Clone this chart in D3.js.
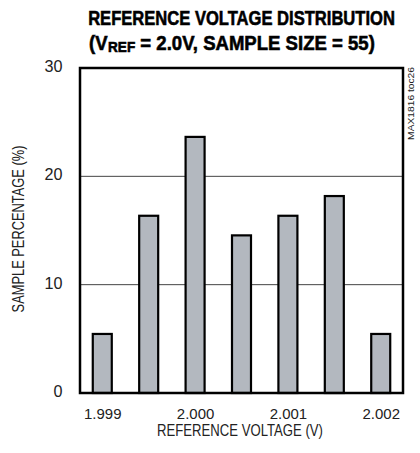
<!DOCTYPE html>
<html><head><meta charset="utf-8">
<script src="https://cdn.jsdelivr.net/npm/d3@7/dist/d3.min.js"></script>
<style>body{margin:0;background:#fff} text{white-space:pre}</style>
</head><body>
<script>
const voltages = [1.999, 1.9995, 2.000, 2.0005, 2.001, 2.0015, 2.002];
const percentages = [5.45, 16.36, 23.64, 14.55, 16.36, 18.18, 5.45];
const xTicks = [1.999, 2.000, 2.001, 2.002];
const xTickLabels = ["1.999", "2.000", "2.001", "2.002"];
const yTicks = [0, 10, 20, 30];

const W = 420, H = 453;
const m = {left: 80, right: 17, top: 68, bottom: 60};
const font = "'Liberation Sans','Arial',sans-serif";
const txt = "#222";

const svg = d3.select("body").append("svg").attr("width", W).attr("height", H);
const x = d3.scaleLinear().domain([1.99876, 2.00224]).range([m.left, W - m.right]);
const y = d3.scaleLinear().domain([0, 30]).range([H - m.bottom, m.top]);

// squeeze a text element horizontally to a target width (narrow-font look)
function squeeze(node, target, pre) {
  const w = node.getComputedTextLength();
  const s = target / w;
  d3.select(node).attr("transform", `${pre || ""} scale(${s},1)`);
}

// gridlines
svg.append("g").selectAll("line").data(yTicks.filter(d => d > 0 && d < 30)).join("line")
  .attr("x1", m.left).attr("x2", W - m.right)
  .attr("y1", d => y(d)).attr("y2", d => y(d))
  .attr("stroke", "#444").attr("stroke-width", 1);

// bars
const bw = 19;
svg.append("g").selectAll("rect").data(voltages).join("rect")
  .attr("x", d => x(d) - bw / 2)
  .attr("width", bw)
  .attr("y", (d, i) => y(percentages[i]))
  .attr("height", (d, i) => y(0) - y(percentages[i]))
  .attr("fill", "#b3b8bf").attr("stroke", "#000").attr("stroke-width", 2.2);

// frame
svg.append("rect").attr("x", m.left).attr("y", m.top)
  .attr("width", W - m.right - m.left).attr("height", H - m.bottom - m.top)
  .attr("fill", "none").attr("stroke", "#000").attr("stroke-width", 2.5);

// y tick labels
const yAxis = d3.axisLeft(y).tickValues(yTicks).tickSize(0).tickPadding(0);
const gy = svg.append("g").attr("transform", `translate(${m.left},0)`).call(yAxis);
gy.select(".domain").remove();
gy.selectAll("text").attr("font-family", font).attr("font-size", 16).attr("fill", txt).attr("x", 0)
  .each(function(d) { squeeze(this, d === 0 ? 9 : 18, "translate(-17.5,-1.5)"); });

// x tick labels
const xAxis = d3.axisBottom(x).tickValues(xTicks).tickFormat((d, i) => xTickLabels[i]).tickSize(0).tickPadding(14.5);
const gx = svg.append("g").attr("transform", `translate(0,${H - m.bottom})`).call(xAxis);
gx.select(".domain").remove();
gx.selectAll("text").attr("font-family", font).attr("font-size", 15.5).attr("fill", txt)
  .each(function() { squeeze(this, 37.5); });

// axis titles
svg.append("text").attr("text-anchor", "middle").attr("font-family", font).attr("font-size", 16).attr("fill", txt)
  .text("REFERENCE VOLTAGE (V)")
  .each(function() { squeeze(this, 166, "translate(240,436)"); });
svg.append("text").attr("text-anchor", "middle").attr("font-family", font).attr("font-size", 16).attr("fill", txt)
  .text("SAMPLE PERCENTAGE (%)")
  .each(function() { squeeze(this, 167, "translate(23.5,229) rotate(-90)"); });

// side note
svg.append("text").attr("text-anchor", "end").attr("font-family", font).attr("font-size", 8.5).attr("fill", txt)
  .text("MAX1816 toc26")
  .each(function() { squeeze(this, 73, "translate(414,67) rotate(-90)"); });

// title
svg.append("text").attr("text-anchor", "middle")
  .attr("font-family", font).attr("font-weight", "bold").attr("font-size", 20.5).attr("fill", "#000")
  .attr("stroke", "#000").attr("stroke-width", 0.6)
  .text("REFERENCE VOLTAGE DISTRIBUTION")
  .each(function() { squeeze(this, 307, "translate(241.5,25)"); });

const parts = [
  {t: "(V", size: 20.5, dy: 0},
  {t: "REF", size: 15, dy: 2},
  {t: " = 2.0V, SAMPLE SIZE = 55)", size: 20.5, dy: 0}
];
const g2 = svg.append("g");
let cx = 0;
parts.forEach(p => {
  const t = g2.append("text").attr("x", cx).attr("y", p.dy)
    .attr("font-family", font).attr("font-weight", "bold").attr("font-size", p.size).attr("fill", "#000")
    .attr("stroke", "#000").attr("stroke-width", 0.6)
    .text(p.t);
  cx += t.node().getComputedTextLength() + (p.t === "(V" ? 0.5 : 0);
});
g2.attr("transform", `translate(89,50) scale(${286 / cx},1)`);
</script>
</body></html>
